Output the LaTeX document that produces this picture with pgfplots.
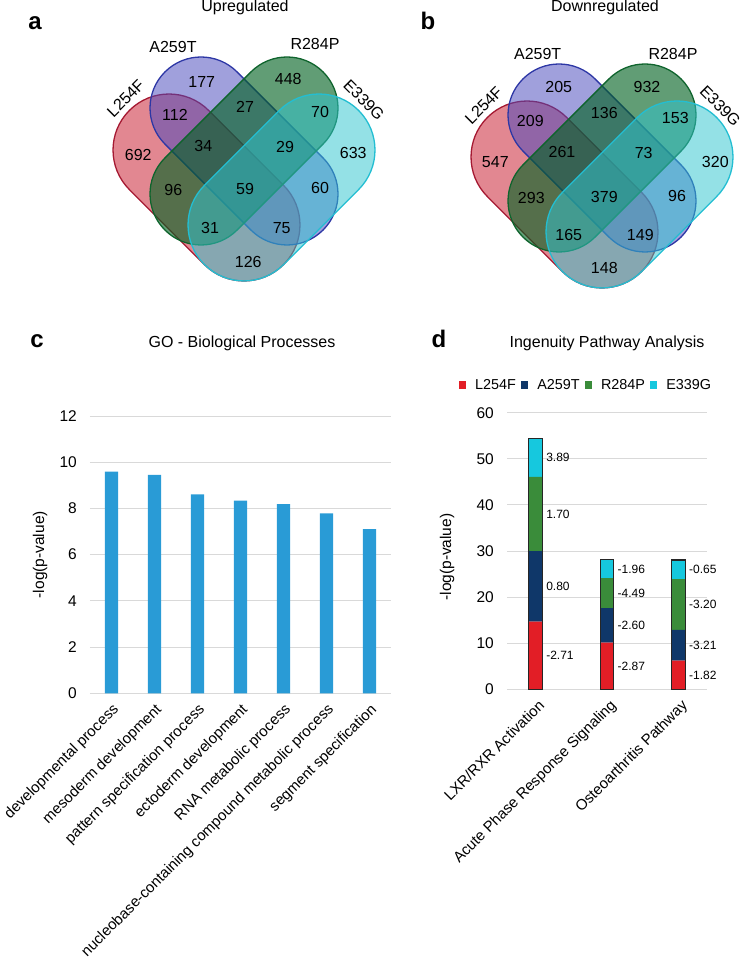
\documentclass[border=0pt]{standalone}
\usepackage{fontspec}
\setmainfont{Liberation Sans}
\usepackage{pgfplots}
\pgfplotsset{compat=1.18}

\definecolor{vred}{RGB}{200,25,45}
\definecolor{vredline}{RGB}{165,25,50}
\definecolor{vblue}{RGB}{72,72,188}
\definecolor{vblueline}{RGB}{45,55,165}
\definecolor{vgreen}{RGB}{0,97,33}
\definecolor{vgreenline}{RGB}{15,100,45}
\definecolor{vcyan}{RGB}{50,197,207}
\definecolor{vcyanline}{RGB}{35,190,210}
\definecolor{gobar}{RGB}{41,155,214}
\definecolor{ipared}{RGB}{226,30,38}
\definecolor{ipanavy}{RGB}{15,55,105}
\definecolor{ipagreen}{RGB}{58,140,58}
\definecolor{ipacyan}{RGB}{22,200,222}
\definecolor{gridgray}{RGB}{217,217,217}

% capsule: fill, line, cx, cy (px from top), angle, half length, radius, opacity
\newcommand{\capsule}[8]{%
  \filldraw[fill=#1, fill opacity=#8, draw=#2, line width=1.3pt,
    rotate around={#5:(axis cs:#3,-#4)}, rounded corners=#7pt]
    (axis cs:{#3-#6-#7},{-#4-#7}) rectangle (axis cs:{#3+#6+#7},{-#4+#7});}

\newcommand{\fsz}[1]{\fontsize{#1}{#1}\selectfont}

\tikzset{ipalab/.style={font=\fsz{12}, anchor=west, inner sep=0pt, xshift=10.5pt}}

\pgfplotsset{
  panel/.style={
    scale only axis, anchor=south west,
    axis line style={draw=none},
    major tick length=0pt,
    ymajorgrids, grid style={gridgray, line width=0.9pt},
    tick label style={font=\fsz{15.5}},
    xticklabel style={font=\fsz{15}},
    /pgf/number format/assume math mode=true,
    yticklabel style={anchor=east, inner sep=0pt, xshift=-13pt},
    label style={font=\fsz{15.5}},
  },
}

\begin{document}
\begin{tikzpicture}
\useasboundingbox (0pt,0pt) rectangle (745pt,-963pt);

% Venn diagrams, titles and panel letters
\begin{axis}[at={(0pt,0pt)}, anchor=north west, x=1pt, y=1pt,
  xmin=0, xmax=745, ymin=-963, ymax=0, hide axis, clip=false]
\capsule{vred}{vredline}{206.5}{187.5}{-45}{53}{56}{0.52}
\capsule{vblue}{vblueline}{244}{151}{-45}{60.8}{51}{0.52}
\capsule{vgreen}{vgreenline}{244}{151}{45}{60.8}{51}{0.62}
\capsule{vcyan}{vcyanline}{281.5}{187.5}{45}{53}{56}{0.52}

\capsule{vred}{vredline}{564.5}{194.5}{-45}{53}{56}{0.52}
\capsule{vblue}{vblueline}{602}{158}{-45}{60.8}{51}{0.52}
\capsule{vgreen}{vgreenline}{602}{158}{45}{60.8}{51}{0.62}
\capsule{vcyan}{vcyanline}{639.5}{194.5}{45}{53}{56}{0.52}

\node[font=\fsz{24}\bfseries, anchor=base] at (axis cs:35,-30) {a};
\node[font=\fsz{24}\bfseries, anchor=base] at (axis cs:428,-30) {b};
\node[font=\fsz{24}\bfseries, anchor=base] at (axis cs:37,-348) {c};
\node[font=\fsz{24}\bfseries, anchor=base] at (axis cs:439,-348) {d};

\node[font=\fsz{16}, anchor=base] at (axis cs:245,-12) {Upregulated};
\node[font=\fsz{16}, anchor=base] at (axis cs:605,-12) {Downregulated};
\node[font=\fsz{16}, anchor=base] at (axis cs:242,-347.5) {GO - Biological Processes};
\node[font=\fsz{16}, anchor=base] at (axis cs:607,-348) {Ingenuity Pathway Analysis};

% set labels
\node[font=\fsz{16}] at (axis cs:173,-47) {A259T};
\node[font=\fsz{16}] at (axis cs:315,-44) {R284P};
\node[font=\fsz{16}, rotate=45] at (axis cs:125.7,-98.3) {L254F};
\node[font=\fsz{16}, rotate=-45] at (axis cs:364,-100) {E339G};
\node[font=\fsz{16}] at (axis cs:537.7,-54) {A259T};
\node[font=\fsz{16}] at (axis cs:673,-54) {R284P};
\node[font=\fsz{16}, rotate=45] at (axis cs:483.7,-105.3) {L254F};
\node[font=\fsz{16}, rotate=-45] at (axis cs:720.3,-106) {E339G};

% counts, upregulated
\node[font=\fsz{16}] at (axis cs:201.7,-81.7) {177};
\node[font=\fsz{16}] at (axis cs:288.3,-79.3) {448};
\node[font=\fsz{16}] at (axis cs:175,-115) {112};
\node[font=\fsz{16}] at (axis cs:245,-106.7) {27};
\node[font=\fsz{16}] at (axis cs:320,-111.7) {70};
\node[font=\fsz{16}] at (axis cs:138.3,-155) {692};
\node[font=\fsz{16}] at (axis cs:203.3,-146) {34};
\node[font=\fsz{16}] at (axis cs:285,-146.7) {29};
\node[font=\fsz{16}] at (axis cs:353.3,-153.3) {633};
\node[font=\fsz{16}] at (axis cs:173.3,-190) {96};
\node[font=\fsz{16}] at (axis cs:245,-189.3) {59};
\node[font=\fsz{16}] at (axis cs:320,-188.3) {60};
\node[font=\fsz{16}] at (axis cs:210,-228.3) {31};
\node[font=\fsz{16}] at (axis cs:281.7,-228.3) {75};
\node[font=\fsz{16}] at (axis cs:248.3,-261.7) {126};
% counts, downregulated
\node[font=\fsz{16}] at (axis cs:558.7,-87.3) {205};
\node[font=\fsz{16}] at (axis cs:647,-86.7) {932};
\node[font=\fsz{16}] at (axis cs:530.3,-120.7) {209};
\node[font=\fsz{16}] at (axis cs:604.3,-113.3) {136};
\node[font=\fsz{16}] at (axis cs:675.3,-118.3) {153};
\node[font=\fsz{16}] at (axis cs:495.3,-162.3) {547};
\node[font=\fsz{16}] at (axis cs:562,-151.7) {261};
\node[font=\fsz{16}] at (axis cs:643.7,-153.3) {73};
\node[font=\fsz{16}] at (axis cs:715.3,-161.7) {320};
\node[font=\fsz{16}] at (axis cs:531.3,-198.3) {293};
\node[font=\fsz{16}] at (axis cs:604.3,-196.7) {379};
\node[font=\fsz{16}] at (axis cs:677,-196) {96};
\node[font=\fsz{16}] at (axis cs:568.7,-235) {165};
\node[font=\fsz{16}] at (axis cs:640.3,-235) {149};
\node[font=\fsz{16}] at (axis cs:604.3,-268.3) {148};
\end{axis}

% c: GO biological processes
\begin{axis}[panel,
  at={(90pt,-693.3pt)}, width=301pt, height=277.3pt,
  ybar, bar width=13.3pt,
  xmin=-0.5, xmax=6.5, ymin=0, ymax=12,
  ytick={0,2,...,12}, xtick={0,...,6},
  xticklabels={developmental process, mesoderm development,
    pattern specification process, ectoderm development,
    RNA metabolic process, nucleobase-containing compound metabolic process,
    segment specification},
  xticklabel style={xshift=0pt, yshift=-9pt, rotate=45, anchor=north east, inner sep=0pt},
  ylabel={-log(p-value)},
  ylabel style={at={(axis description cs:-0.166,0.5)}, anchor=center},
]
\addplot[fill=gobar, draw=none] coordinates {
  (0,9.59) (1,9.45) (2,8.61) (3,8.34) (4,8.19) (5,7.79) (6,7.11)};
\end{axis}

% d: Ingenuity pathway analysis
\begin{axis}[panel, clip=false,
  at={(507pt,-689.3pt)}, width=200pt, height=276.6pt,
  ybar stacked, bar width=13.3pt,
  xmin=-0.4, xmax=2.4, ymin=0, ymax=60,
  ytick={0,10,...,60}, xtick={0,1,2},
  xticklabels={LXR/RXR Activation, Acute Phase Response Signaling, Osteoarthritis Pathway},
  xticklabel style={xshift=2pt, yshift=-9pt, rotate=45, anchor=north east, inner sep=0pt},
  ylabel={-log(p-value)},
  ylabel style={at={(axis description cs:-0.3,0.478)}, anchor=center},
  legend columns=4,
  legend style={at={(axis description cs:0.395,1.1)}, anchor=center, draw=none,
    font=\fsz{14.4},
    /tikz/every odd column/.append style={column sep=7pt},
    /tikz/every even column/.append style={column sep=3pt}},
  legend image code/.code={\fill[#1] (0pt,-3.6pt) rectangle (7.3pt,3.7pt);},
]
\addplot[fill=ipared, draw=none] coordinates {(0,14.7) (1,10.1) (2,6.2)};
\addplot[fill=ipanavy, draw=none] coordinates {(0,15.3) (1,7.5) (2,6.7)};
\addplot[fill=ipagreen, draw=none] coordinates {(0,16.1) (1,6.5) (2,11.0)};
\addplot[fill=ipacyan, draw=none] coordinates {(0,8.4) (1,4.0) (2,4.15)};
\legend{L254F, A259T, R284P, E339G}
\node[ipalab] at (axis cs:0,7.35) {-2.71};
\node[ipalab] at (axis cs:0,22.35) {0.80};
\node[ipalab] at (axis cs:0,38.05) {1.70};
\node[ipalab] at (axis cs:0,50.3) {3.89};
\node[ipalab] at (axis cs:1,5.05) {-2.87};
\node[ipalab] at (axis cs:1,13.85) {-2.60};
\node[ipalab] at (axis cs:1,20.85) {-4.49};
\node[ipalab] at (axis cs:1,26.1) {-1.96};
\node[ipalab] at (axis cs:2,3.1) {-1.82};
\node[ipalab] at (axis cs:2,9.55) {-3.21};
\node[ipalab] at (axis cs:2,18.4) {-3.20};
\node[ipalab] at (axis cs:2,25.98) {-0.65};
\end{axis}

% d: bar outlines (totals)
\begin{axis}[scale only axis, anchor=south west, hide axis,
  at={(507pt,-689.3pt)}, width=200pt, height=276.6pt,
  ybar, bar width=13.3pt, xmin=-0.4, xmax=2.4, ymin=0, ymax=60]
\addplot[fill=none, draw=black!85, line width=1.1pt] coordinates {(0,54.5) (1,28.1) (2,28.05)};
\end{axis}
\end{tikzpicture}
\end{document}
